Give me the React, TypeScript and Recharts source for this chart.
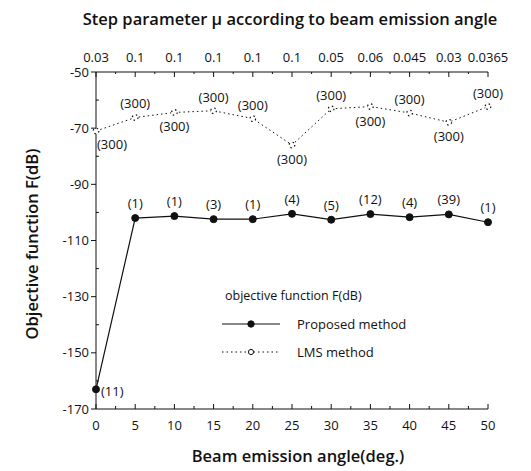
import React from 'react';
import { LineChart, Line, XAxis, YAxis, Legend, LabelList } from 'recharts';

// beam emission angle (deg.)
const angles = [0, 5, 10, 15, 20, 25, 30, 35, 40, 45, 50];
// objective function F(dB)
const proposedF = [-163.0, -102.0, -101.3, -102.4, -102.4, -100.5, -102.6, -100.6, -101.7, -100.7, -103.5];
const lmsF = [-71.0, -66.2, -64.4, -63.8, -66.6, -76.0, -63.1, -62.3, -64.6, -67.9, -62.3];
// iteration counts shown in brackets
const proposedIter = [11, 1, 1, 3, 1, 4, 5, 12, 4, 39, 1];
const lmsIter = [300, 300, 300, 300, 300, 300, 300, 300, 300, 300, 300];
// step parameter mu per angle (top axis)
const muLabels = ['0.03', '0.1', '0.1', '0.1', '0.1', '0.1', '0.05', '0.06', '0.045', '0.03', '0.0365'];

const angleTicks = [0, 2.5, 5, 7.5, 10, 12.5, 15, 17.5, 20, 22.5, 25, 27.5, 30, 32.5, 35, 37.5, 40, 42.5, 45, 47.5, 50];
const fTicks = [-170, -160, -150, -140, -130, -120, -110, -100, -90, -80, -70, -60, -50];

// where each LMS label sits relative to its point
const lmsLabelSide = ['belowRight', 'above', 'below', 'above', 'above', 'below', 'above', 'below', 'above', 'below', 'above'];
const legendOrder = ['proposed', 'lms'];

const data = angles.map((a, i) => ({
  angle: a,
  proposed: proposedF[i],
  lms: lmsF[i],
  proposedIter: proposedIter[i],
  lmsIter: lmsIter[i],
}));

const FONT = '"Open Sans", "DejaVu Sans", sans-serif';
const INK = '#111';

const BottomTick = (props: any) => {
  const { x, y, payload } = props;
  const v = payload.value;
  const major = v % 5 === 0;
  return (
    <g>
      <line x1={x} x2={x} y1={y} y2={y - (major ? 5 : 3)} stroke={INK} />
      {major && (
        <text x={x} y={y + 21} textAnchor="middle" fontSize={13} fill={INK} fontFamily={FONT}>
          {v}
        </text>
      )}
    </g>
  );
};

const TopTick = (props: any) => {
  const { x, y, payload } = props;
  const v = payload.value;
  const major = v % 5 === 0;
  return (
    <g>
      <line x1={x} x2={x} y1={y} y2={y + (major ? 5 : 2)} stroke={INK} />
      {major && (
        <text x={x} y={y - 10} textAnchor="middle" fontSize={13} fill={INK} fontFamily={FONT}>
          {muLabels[Math.round(v / 5)]}
        </text>
      )}
    </g>
  );
};

const LeftTick = (props: any) => {
  const { x, y, payload } = props;
  const v = payload.value;
  const major = (v + 50) % 20 === 0;
  return (
    <g>
      {major ? (
        <line x1={x - 5} x2={x} y1={y} y2={y} stroke={INK} />
      ) : (
        <line x1={x} x2={x + 3} y1={y} y2={y} stroke={INK} />
      )}
      {major && (
        <text x={x - 7} y={y} dy="0.35em" textAnchor="end" fontSize={13} fill={INK} fontFamily={FONT}>
          {v}
        </text>
      )}
    </g>
  );
};

const ProposedLabel = (props: any) => {
  const { x, y, value, index } = props;
  if (index === 0) {
    return (
      <text x={x + 5} y={y + 2} dy="0.35em" fontSize={13} fill={INK} fontFamily={FONT}>
        ({value})
      </text>
    );
  }
  return (
    <text x={x} y={y - 10} textAnchor="middle" fontSize={13} fill={INK} fontFamily={FONT}>
      ({value})
    </text>
  );
};

const LmsLabel = (props: any) => {
  const { x, y, value, index } = props;
  const side = lmsLabelSide[index];
  let tx = x;
  let ty = y - 9;
  let anchor: 'middle' | 'start' = 'middle';
  if (side === 'below') ty = y + 19;
  if (side === 'belowRight') {
    tx = x + 1;
    ty = y + 18;
    anchor = 'start';
  }
  return (
    <text x={tx} y={ty} textAnchor={anchor} fontSize={13} fill={INK} fontFamily={FONT}>
      ({value})
    </text>
  );
};

const renderLegend = (props: any) => {
  const items = [...(props.payload || [])].sort(
    (a: any, b: any) => legendOrder.indexOf(a.dataKey) - legendOrder.indexOf(b.dataKey),
  );
  return (
    <div style={{ fontFamily: FONT, fontSize: 12.5, color: INK }}>
      <div style={{ height: 28, lineHeight: '28px', paddingLeft: 3 }}>objective function F(dB)</div>
      {items.map((entry: any) => {
        const dashed = entry.dataKey === 'lms';
        return (
          <div key={entry.dataKey} style={{ height: 28, display: 'flex', alignItems: 'center' }}>
            <svg width={58} height={10} style={{ display: 'block' }}>
              <line x1={0} x2={58} y1={5} y2={5} stroke={INK} strokeDasharray={dashed ? '1.5 3' : undefined} />
              <circle cx={29} cy={5} r={dashed ? 2.6 : 3.2} fill={dashed ? '#fff' : INK} stroke={INK} />
            </svg>
            <span style={{ marginLeft: 17, fontSize: 13 }}>{entry.value}</span>
          </div>
        );
      })}
    </div>
  );
};

export default function App() {
  return (
    <div style={{ position: 'absolute', left: 0, top: 0, width: 531, height: 471, background: '#fff', fontFamily: FONT }}>
      <LineChart width={531} height={471} data={data} margin={{ top: 42, right: 43, bottom: 32, left: 40 }}>
        <XAxis
          xAxisId="bottom"
          dataKey="angle"
          type="number"
          domain={[0, 50]}
          ticks={angleTicks}
          interval={0}
          tickSize={0}
          tickMargin={0}
          tickLine={false}
          tick={<BottomTick />}
          axisLine={{ stroke: INK }}
          height={30}
        />
        <XAxis
          xAxisId="top"
          orientation="top"
          dataKey="angle"
          type="number"
          domain={[0, 50]}
          ticks={angleTicks}
          interval={0}
          tickSize={0}
          tickMargin={0}
          tickLine={false}
          tick={<TopTick />}
          axisLine={{ stroke: INK }}
          height={30}
        />
        <YAxis
          yAxisId="left"
          type="number"
          domain={[-170, -50]}
          ticks={fTicks}
          interval={0}
          tickSize={0}
          tickMargin={0}
          tickLine={false}
          tick={<LeftTick />}
          axisLine={{ stroke: INK }}
          width={56}
        />
        <Legend
          layout="vertical"
          align="center"
          verticalAlign="middle"
          content={renderLegend}
          wrapperStyle={{ left: 222, top: 282, width: 220 }}
        />
        <Line
          xAxisId="bottom"
          yAxisId="left"
          dataKey="proposed"
          name="Proposed method"
          stroke={INK}
          strokeWidth={1.2}
          dot={{ r: 3.5, fill: INK, stroke: INK, strokeWidth: 1 }}
          isAnimationActive={false}
        >
          <LabelList dataKey="proposedIter" content={ProposedLabel} />
        </Line>
        <Line
          xAxisId="bottom"
          yAxisId="left"
          dataKey="lms"
          name="LMS method"
          stroke={INK}
          strokeWidth={1}
          strokeDasharray="1.5 3"
          dot={{ r: 2.8, fill: '#fff', stroke: INK, strokeWidth: 1.2 }}
          isAnimationActive={false}
        >
          <LabelList dataKey="lmsIter" content={LmsLabel} />
        </Line>
      </LineChart>
      <div
        style={{
          position: 'absolute', left: 290, top: 18, transform: 'translate(-50%, -50%)',
          fontSize: 16.5, fontWeight: 600, whiteSpace: 'nowrap', color: INK,
        }}
      >
        Step parameter μ according to beam emission angle
      </div>
      <div
        style={{
          position: 'absolute', left: 31, top: 244, transform: 'translate(-50%, -50%) rotate(-90deg)',
          fontSize: 16.5, fontWeight: 600, whiteSpace: 'nowrap', color: INK,
        }}
      >
        Objective function F(dB)
      </div>
      <div
        style={{
          position: 'absolute', left: 298, top: 455, transform: 'translate(-50%, -50%)',
          fontSize: 16.5, fontWeight: 600, whiteSpace: 'nowrap', color: INK,
        }}
      >
        Beam emission angle(deg.)
      </div>
    </div>
  );
}
